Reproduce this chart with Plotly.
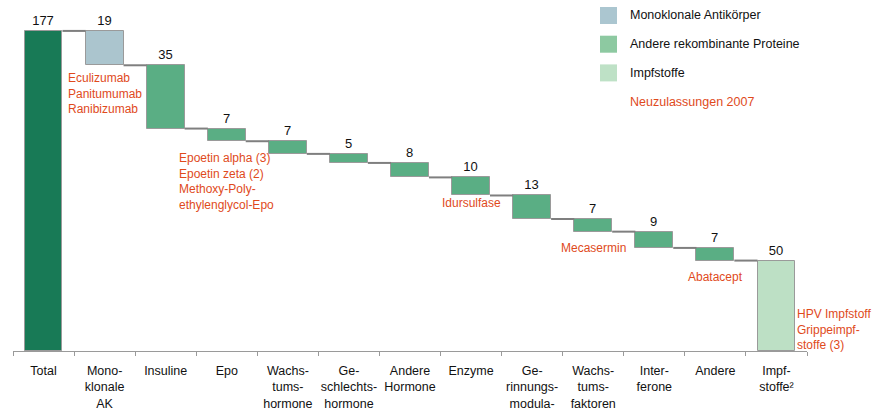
import plotly.graph_objects as go

# Neuzulassungen rekombinanter Wirkstoffe 2007 – Wasserfall nach Wirkstoffklasse
categories = [
    "Total", "Mono-<br>klonale<br>AK", "Insuline", "Epo", "Wachs-<br>tums-<br>hormone",
    "Ge-<br>schlechts-<br>hormone", "Andere<br>Hormone", "Enzyme",
    "Ge-<br>rinnungs-<br>modula-", "Wachs-<br>tums-<br>faktoren", "Inter-<br>ferone",
    "Andere", "Impf-<br>stoffe²",
]
values = [177, 19, 35, 7, 7, 5, 8, 10, 13, 7, 9, 7, 50]
groups = ["total", "mab", "other", "other", "other", "other", "other", "other",
          "other", "other", "other", "other", "vaccine"]

notes = {
    1: ["Eculizumab", "Panitumumab", "Ranibizumab"],
    3: ["Epoetin alpha (3)", "Epoetin zeta (2)", "Methoxy-Poly-", "ethylenglycol-Epo"],
    7: ["Idursulfase"],
    9: ["Mecasermin"],
    11: ["Abatacept"],
}
vaccine_note = ["HPV Impfstoff", "Grippeimpf-", "stoffe (3)"]

legend_items = [
    ("mab", "Monoklonale Antikörper"),
    ("other", "Andere rekombinante Proteine"),
    ("vaccine", "Impfstoffe"),
]

bar_colors = {"total": "#187a56", "mab": "#abc5ce", "other": "#5aae84", "vaccine": "#bde0c5"}
legend_colors = {"mab": "#abc6d0", "other": "#8dc9a1", "vaccine": "#bee1c6"}
note_color = "#e04a1c"
FONT = "Liberation Sans, Arial, sans-serif"

W, H = 874, 412
ML, MR, MT, MB = 13, 67, 0, 61
BAR_W = 0.62

# floating bases: total and vaccines stand on zero, the rest step down
bases = []
levels = []
remaining = values[0]
for i, v in enumerate(values):
    if i == 0 or i == len(values) - 1:
        bases.append(0)
        levels.append(remaining if i == 0 else v)
    else:
        remaining -= v
        bases.append(remaining)
        levels.append(remaining)

xs = list(range(len(values)))

fig = go.Figure()

# connector steps between neighbouring bars
cx, cy = [], []
for i in range(len(values) - 1):
    cx += [i + BAR_W / 2, i + 1 - BAR_W / 2, None]
    cy += [levels[i], levels[i], None]
fig.add_trace(go.Scatter(x=cx, y=cy, mode="lines", line=dict(color="#7f7f7f", width=2),
                         hoverinfo="skip", showlegend=False))

fig.add_trace(go.Bar(
    x=xs, y=values, base=bases, width=BAR_W,
    marker=dict(color=[bar_colors[g] for g in groups], line=dict(color="#9a9a9a", width=1)),
    text=[str(v) for v in values], textposition="outside",
    textfont=dict(family=FONT, size=13, color="#111"),
    cliponaxis=False, showlegend=False,
))

plot_w = W - ML - MR
plot_h = H - MT - MB
y_top = 194.1

fig.update_layout(
    width=W, height=H, margin=dict(l=ML, r=MR, t=MT, b=MB),
    paper_bgcolor="white", plot_bgcolor="white",
    font=dict(family=FONT, size=12.5, color="#111"),
    bargap=0,
    xaxis=dict(
        range=[-0.5, len(values) - 0.5], tickmode="array", tickvals=xs, ticktext=categories,
        ticks="", showgrid=False, zeroline=False, showline=True, linecolor="#9a9a9a",
        linewidth=1, tickfont=dict(family=FONT, size=12.5, color="#111"),
        ticklabelstandoff=8,
        minor=dict(tickmode="array", tickvals=[i - 0.5 for i in range(len(values) + 1)],
                   ticks="outside", ticklen=4, tickcolor="#9a9a9a", tickwidth=1, showgrid=False),
    ),
    yaxis=dict(range=[0, y_top], visible=False),
)

# red notes under the bars
note_shift = {1: -4, 3: -8, 7: 1, 9: -7, 11: -7}
for i, lines in notes.items():
    fig.add_annotation(
        x=i, y=bases[i], xref="x", yref="y", xanchor="center", yanchor="top",
        yshift=note_shift[i], text="<br>".join(lines), align="left", showarrow=False,
        font=dict(family=FONT, size=12, color=note_color),
    )
last = len(values) - 1
fig.add_annotation(
    x=last + BAR_W / 2, y=0, xref="x", yref="y", xanchor="left", yanchor="bottom",
    xshift=0, yshift=-3, text="<br>".join(vaccine_note), align="left", showarrow=False,
    font=dict(family=FONT, size=12, color=note_color),
)

# legend block
def px_x(p):
    return (p - ML) / plot_w

def px_y(p):
    return 1 - (p - MT) / plot_h

sw_left, sw_size, row_gap, first_top = 600, 17, 28.7, 7
for k, (g, label) in enumerate(legend_items):
    top = first_top + k * row_gap
    fig.add_shape(type="rect", xref="paper", yref="paper",
                  x0=px_x(sw_left), x1=px_x(sw_left + sw_size),
                  y0=px_y(top + sw_size), y1=px_y(top),
                  fillcolor=legend_colors[g], line=dict(width=0))
    fig.add_annotation(x=px_x(628), y=px_y(top + sw_size / 2), xref="paper", yref="paper",
                       xanchor="left", yanchor="middle", text=label, showarrow=False,
                       font=dict(family=FONT, size=12.5, color="#111"))
fig.add_annotation(x=px_x(628), y=px_y(first_top + 3 * row_gap + sw_size / 2),
                   xref="paper", yref="paper", xanchor="left", yanchor="middle",
                   text="Neuzulassungen 2007", showarrow=False,
                   font=dict(family=FONT, size=12.5, color=note_color))

fig.write_html("out.html")
